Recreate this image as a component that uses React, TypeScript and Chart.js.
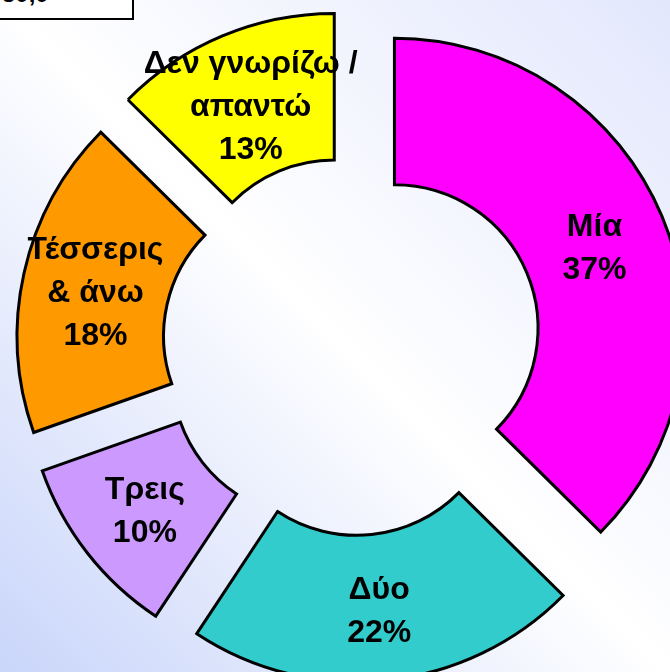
import React, { useEffect, useRef } from "react";
import { Chart, registerables } from "chart.js";

Chart.register(...registerables);

const categories: string[][] = [
  ["Μία"],
  ["Δύο"],
  ["Τρεις"],
  ["Τέσσερις", "& άνω"],
  ["Δεν γνωρίζω /", "απαντώ"],
];
const shares: number[] = [37.4, 21.9, 10.3, 17.8, 12.6];
const sliceColors: string[] = ["#FF00FF", "#33CCCC", "#CC99FF", "#FF9900", "#FFFF00"];

const EXPLODE = 46;

const explodePlugin = {
  id: "explodeSlices",
  afterUpdate(chart: any) {
    const meta = chart.getDatasetMeta(0);
    meta.data.forEach((arc: any) => {
      const mid = (arc.startAngle + arc.endAngle) / 2;
      arc.x += Math.cos(mid) * EXPLODE;
      arc.y += Math.sin(mid) * EXPLODE;
    });
  },
};

const labelPlugin = {
  id: "sliceLabels",
  afterDatasetsDraw(chart: any) {
    const ctx = chart.ctx;
    const meta = chart.getDatasetMeta(0);
    ctx.save();
    ctx.fillStyle = "#000";
    ctx.font = "bold 32px 'Liberation Sans', Arial, sans-serif";
    ctx.textAlign = "center";
    ctx.textBaseline = "middle";
    const lh = 43;
    meta.data.forEach((arc: any, i: number) => {
      const p = arc.tooltipPosition(false);
      const lines = [...categories[i], Math.round(shares[i]) + "%"];
      const top = p.y + 4 - ((lines.length - 1) * lh) / 2;
      lines.forEach((t, j) => ctx.fillText(t, p.x, top + j * lh));
    });
    ctx.restore();
  },
};

export default function App() {
  const ref = useRef<HTMLCanvasElement>(null);
  useEffect(() => {
    if (!ref.current) return;
    const chart = new Chart(ref.current, {
      type: "doughnut",
      data: {
        labels: categories.map((c) => c.join(" ")),
        datasets: [
          {
            data: shares,
            backgroundColor: sliceColors,
            borderColor: "#000000",
            borderWidth: 3,
            borderJoinStyle: "miter",
          } as any,
        ],
      },
      options: {
        responsive: false,
        maintainAspectRatio: false,
        animation: false,
        events: [],
        radius: 290,
        cutout: "49.5%",
        rotation: 0,
        layout: { padding: 0 },
        plugins: {
          legend: { display: false },
          tooltip: { enabled: false },
        },
      } as any,
      plugins: [explodePlugin, labelPlugin],
    });
    return () => chart.destroy();
  }, []);

  return (
    <div
      style={{
        position: "fixed",
        left: 0,
        top: 0,
        width: 670,
        height: 672,
        overflow: "hidden",
        background:
          "linear-gradient(to top right, #C9D5FA 0%, #FFFFFF 50%, #E2E7FC 100%)",
      }}
    >
      <div
        style={{
          position: "absolute",
          left: -60,
          top: -40,
          width: 190,
          height: 56,
          border: "2px solid #000",
          background: "#FFFFFF",
          fontFamily: "'Liberation Sans', Arial, sans-serif",
          fontWeight: "bold",
          fontSize: 24,
        }}
      >
        <span style={{ position: "absolute", left: 60, top: 20, lineHeight: "24px" }}>50,0</span>
      </div>
      <canvas
        ref={ref}
        width={740}
        height={740}
        style={{ position: "absolute", left: -18, top: -24, width: 740, height: 740 }}
      />
    </div>
  );
}
